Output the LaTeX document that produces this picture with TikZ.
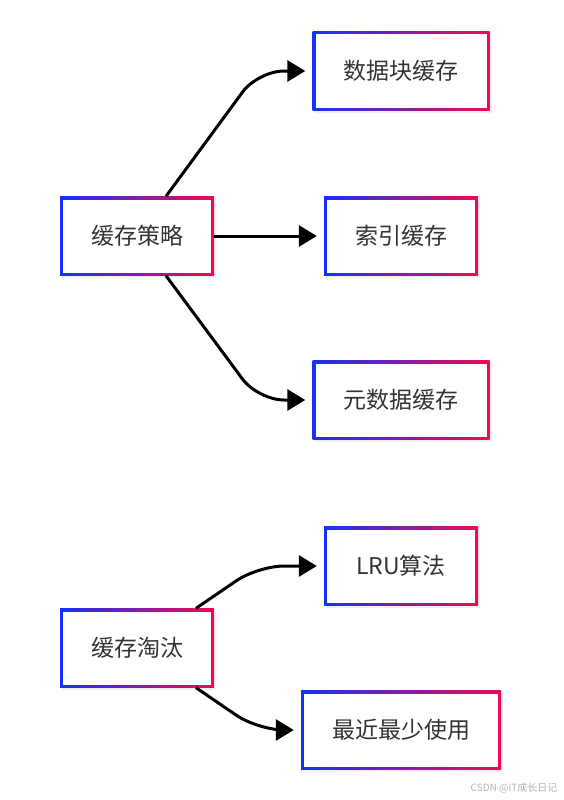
\documentclass[tikz,border=0pt]{standalone}
\usepackage{fontspec}
\setmainfont{Noto Sans CJK SC}
\usetikzlibrary{arrows.meta,shadows}
\definecolor{edgeblue}{RGB}{20,50,250}
\definecolor{edgered}{RGB}{240,10,80}
\definecolor{textgrey}{RGB}{51,51,51}
\begin{document}
\begin{tikzpicture}[x=1pt, y=-1pt,
	box/.style={rectangle, fill=white, minimum width=154pt, minimum height=79pt, inner xsep=31pt,
		font=\fontsize{23}{27}\selectfont, text=textgrey,
		drop shadow={opacity=0.12, shadow xshift=2pt, shadow yshift=-2pt},
		path picture={
			\shade[left color=edgeblue, right color=edgered] (path picture bounding box.south west) rectangle (path picture bounding box.north east);
			\fill[white] ([shift={(3pt,3pt)}]path picture bounding box.south west) rectangle ([shift={(-3pt,-3pt)}]path picture bounding box.north east);
		}},
	link/.style={line width=3pt, black, rounded corners=26pt, shorten >=7pt, -{Triangle[length=18pt, width=21pt]}}]
			\useasboundingbox (0,0) rectangle (564,800);
			\coordinate (bend) at (258,0);
			% cache strategy
			\node[box](strat) at (137,236){缓存策略};
			\node[box](blk) at (401,71){数据块缓存};
			\node[box](idx) at (401,236){索引缓存};
			\node[box](meta) at (401,400){元数据缓存};
			\draw[link] ([xshift=29pt]strat.north) -- (bend |- blk.west) -- (blk.west);
			\draw[link] (strat.east) -- (idx.west);
			\draw[link] ([xshift=29pt]strat.south) -- (bend |- meta.west) -- (meta.west);
			% eviction
			\node[box](evict) at (137,648){缓存淘汰};
			\node[box](lru) at (401,566){LRU算法};
			\node[box](lfu) at (401,730){最近最少使用};
			\draw[link] ([xshift=59pt]evict.north) -- (bend |- lru.west) -- (lru.west);
			\draw[link] ([xshift=59pt]evict.south) -- (bend |- lfu.west) -- (lfu.west);
			\node[anchor=east, text=black!30, font=\fontsize{10}{12}\selectfont](mark) at (561,788){CSDN @IT成长日记};
\end{tikzpicture}
\end{document}
